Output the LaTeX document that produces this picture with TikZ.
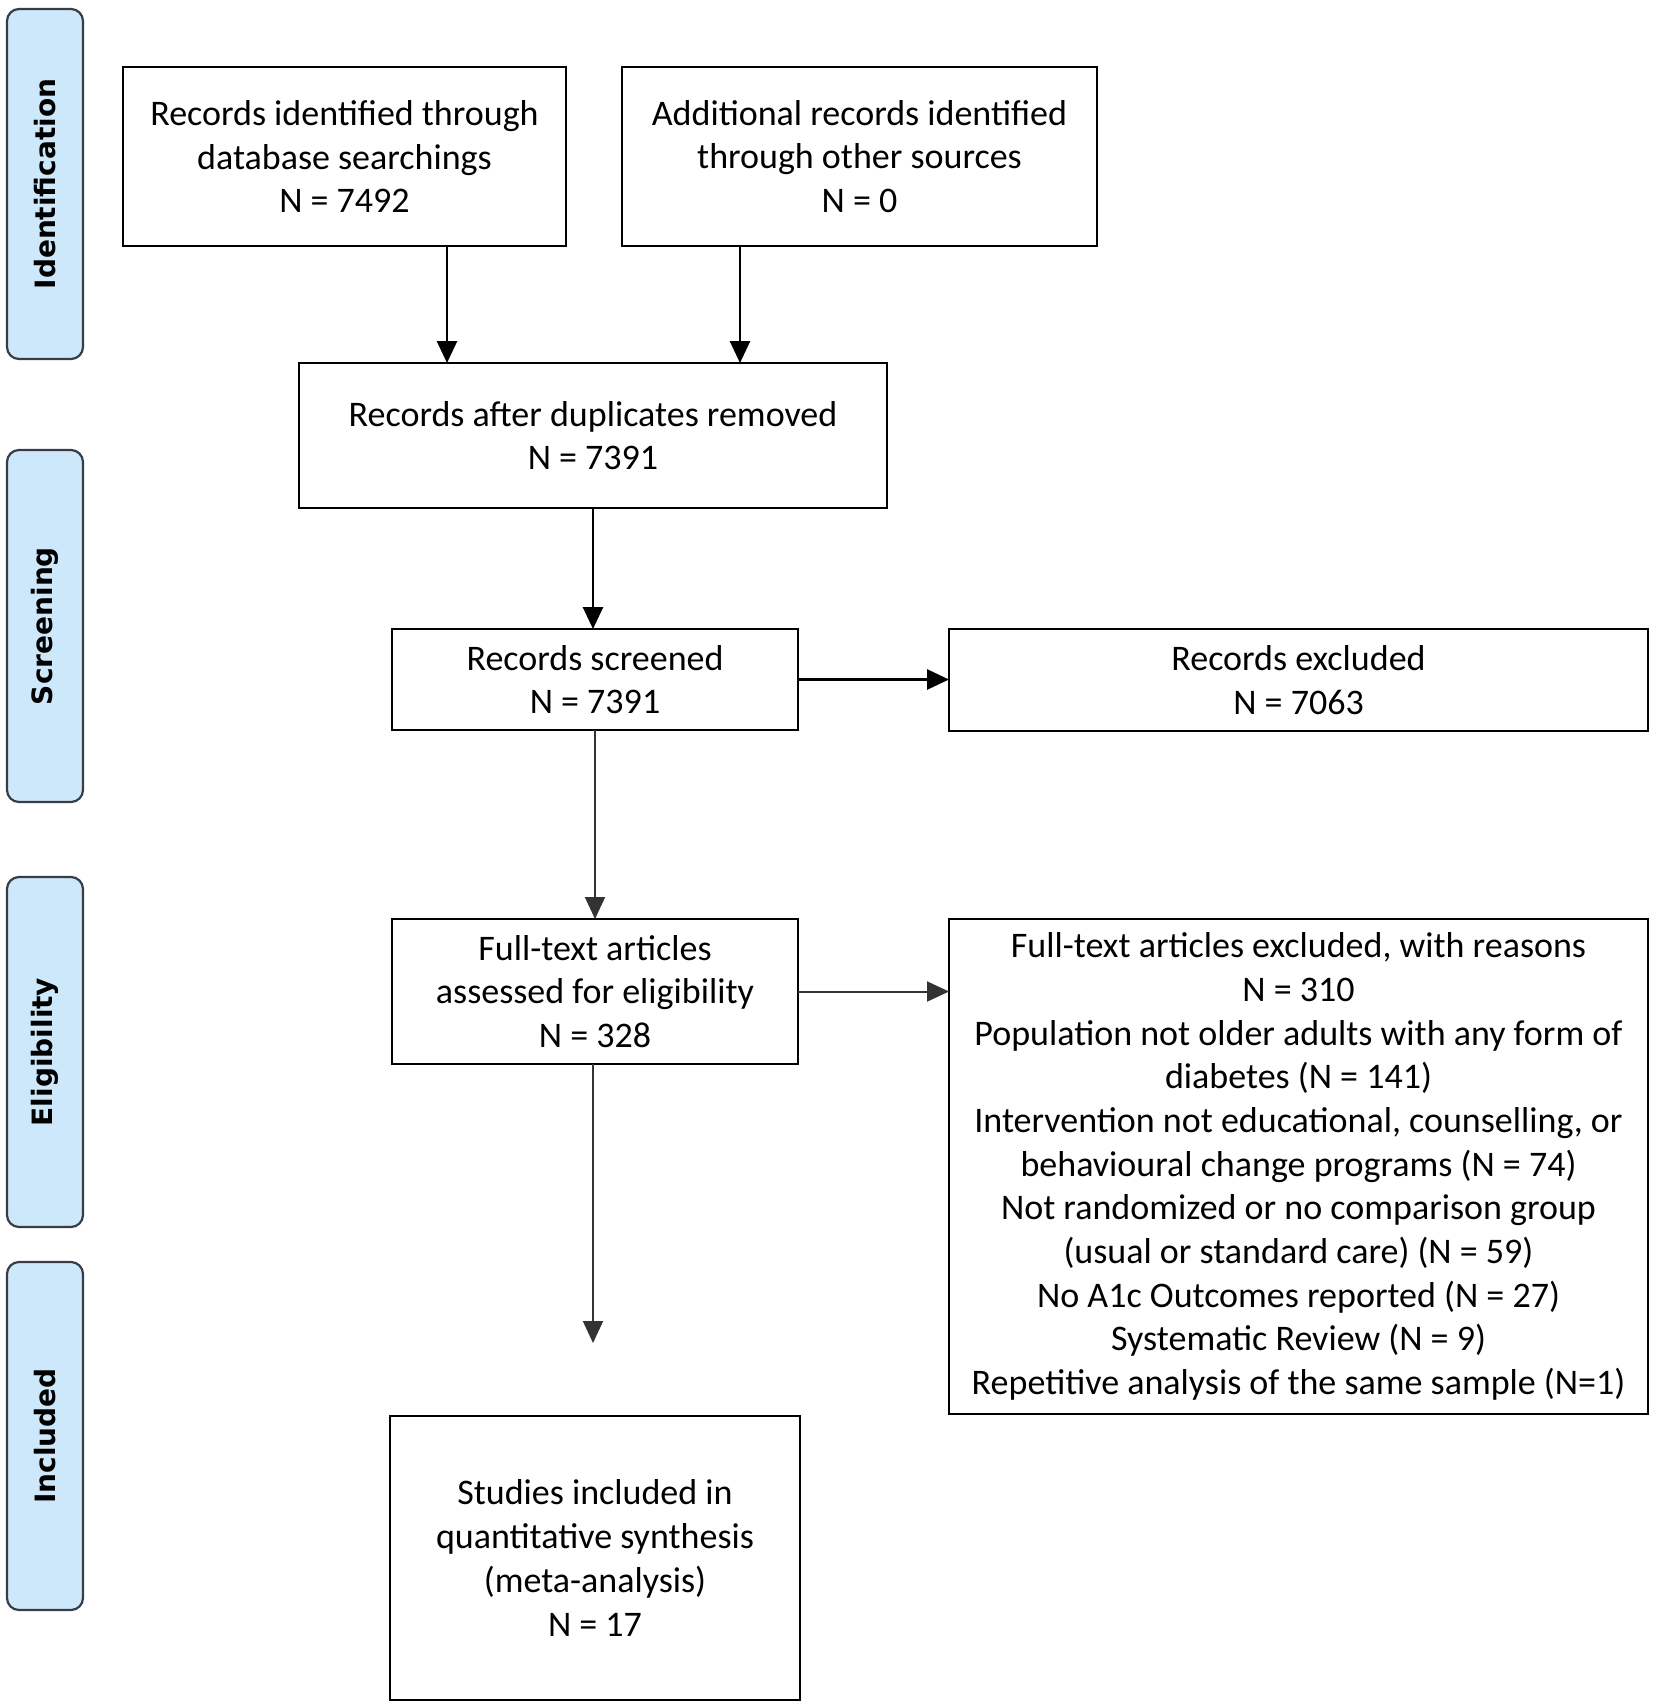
\documentclass[tikz,border=0pt]{standalone}
\usepackage{fontspec}
\setmainfont{Carlito}
\newfontfamily\tabfont{DejaVu Sans}
\usetikzlibrary{arrows.meta}
\definecolor{tabfill}{RGB}{205,232,250}
\definecolor{tabline}{RGB}{55,60,70}
\begin{document}
\begin{tikzpicture}[x=0.5pt,y=-0.5pt,
 box/.style={draw, line width=1pt, outer sep=0pt, inner sep=0pt, align=center, font=\fontsize{18}{21.85}\selectfont},
 tab/.style={draw=tabline, fill=tabfill, line width=1.1pt, rounded corners=6pt, outer sep=0pt, inner sep=0pt, minimum height=38pt, rotate=90, font=\tabfont\bfseries\fontsize{14}{16}\selectfont},
 arr/.style={line width=1.4pt, -{Triangle[length=11pt,width=10pt]}},
 garr/.style={line width=1pt, draw=black!80, -{Triangle[length=11pt,width=10pt]}}
]
\useasboundingbox (0,0) rectangle (1654,1704);
% phase tabs
\node[tab, minimum width=175pt] (t1) at (45,184) {Identification};
\node[tab, minimum width=176pt] (t2) at (45,626) {Screening};
\node[tab, minimum width=175pt] (t3) at (45,1052) {Eligibility};
\node[tab, minimum width=174pt] (t4) at (45,1436) {Included};
% boxes
\node[box, minimum width=221.5pt, minimum height=89.5pt] (b1) at (344.5,156.5) {Records identified through\\database searchings\\N = 7492};
\node[box, minimum width=237.5pt, minimum height=89.5pt] (b2) at (859.5,156.5) {Additional records identified\\through other sources\\N = 0};
\node[box, minimum width=294pt, minimum height=72.5pt] (b3) at (593,435.5) {Records after duplicates removed\\N = 7391};
\node[box, minimum width=203pt, minimum height=50.5pt] (b4) at (595,679.5) {Records screened\\N = 7391};
\node[box, minimum width=349.5pt, minimum height=51pt] (b5) at (1298.5,680) {Records excluded\\N = 7063};
\node[box, minimum width=203pt, minimum height=72.5pt] (b6) at (595,991.5) {Full-text articles\\assessed for eligibility\\N = 328};
\node[box, minimum width=349.5pt, minimum height=247.5pt] (b7) at (1298.5,1166.5) {Full-text articles excluded, with reasons\\N = 310\\Population not older adults with any form of\\diabetes (N = 141)\\Intervention not educational, counselling, or\\behavioural change programs (N = 74)\\Not randomized or no comparison group\\(usual or standard care) (N = 59)\\No A1c Outcomes reported (N = 27)\\Systematic Review (N = 9)\\Repetitive analysis of the same sample (N=1)};
\node[box, minimum width=205pt, minimum height=142pt] (b8) at (595,1558) {Studies included in\\quantitative synthesis\\(meta-analysis)\\N = 17};
% connectors
\coordinate (x1) at (447,0);
\coordinate (x2) at (740,0);
\coordinate (end) at (593,1343);
\draw[arr] (b1.south -| x1) -- (b3.north -| x1);
\draw[arr] (b2.south -| x2) -- (b3.north -| x2);
\draw[arr] (b3.south) -- (b3.south |- b4.north);
\draw[arr] (b4.east) -- (b4.east -| b5.west);
\draw[garr] (b4.south) -- (b6.north);
\draw[garr] (b6.east) -- (b6.east -| b7.west);
\draw[garr] (b6.south -| end) -- (end);
\end{tikzpicture}
\end{document}
